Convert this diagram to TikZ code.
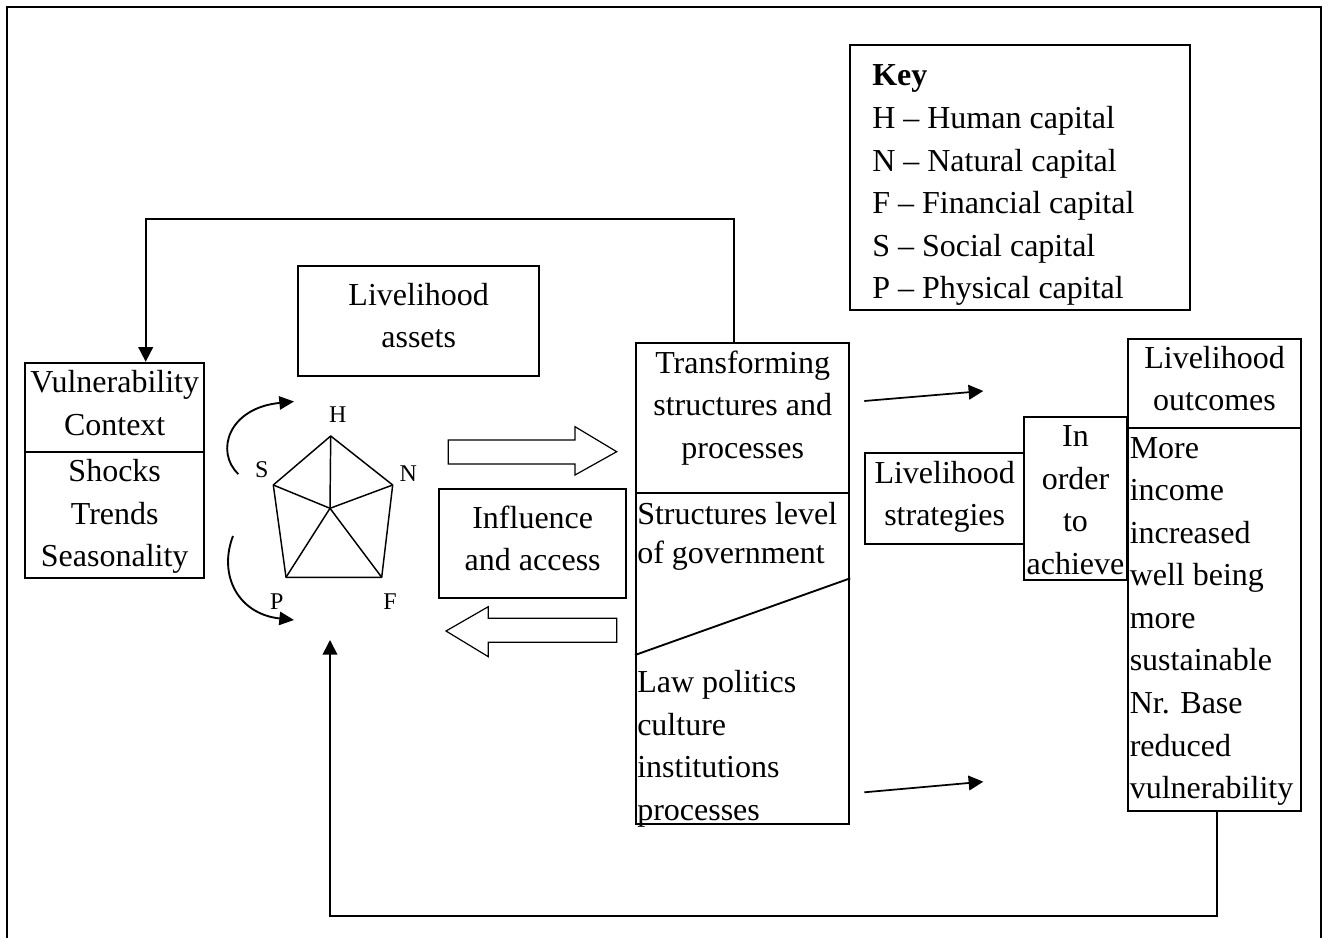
\documentclass[tikz,border=0pt]{standalone}
\usepackage{fontspec}
\setmainfont{Liberation Serif}
\usetikzlibrary{arrows.meta,fit}
\newcommand\mlines[2]{\begin{tabular}[t]{@{}#1@{}}#2\end{tabular}}
\begin{document}
\begin{tikzpicture}[x=0.75pt,y=-0.75pt,
  box/.style={draw,line width=1.4pt,inner sep=0pt},
  txt/.style={inner sep=0pt,font=\fontsize{24}{31.9}\selectfont},
  ctxt/.style={txt,anchor=base},
  ltxt/.style={txt,anchor=base west},
  lbl/.style={inner sep=0pt,anchor=base,font=\fontsize{18}{20}\selectfont},
  arr/.style={line width=1.3pt,-{Triangle[length=11pt,width=11pt]}},
  carr/.style={line width=1.4pt,-{Triangle[length=11pt,width=10pt]}},
  pent/.style={line width=1.1pt,line join=round},
  blockarrow/.style={draw,line width=0.9pt,line join=miter},
  divider/.style={line width=1.4pt}]
\useasboundingbox (0,0) rectangle (1324,938);
% outer frame (open at the bottom)
\draw[line width=1.5pt] (6.5,938) -- (6.5,7.5) -- (1321,7.5) -- (1321,938);

% ---------- Key ----------
\node[box,fit={(850,45) (1190,310)}] (key) {};
\begin{scope}
\clip (850,45) rectangle (1190,309);
\node[ltxt] (keytxt) at (872,86) {\mlines{l}{\textbf{Key}\\H – Human capital\\N – Natural capital\\F – Financial capital\\S – Social capital\\P – Physical capital}};
\end{scope}

% ---------- Vulnerability context ----------
\node[box,fit={(25,362.7) (204.3,577.7)}] (vul) {};
\draw[divider] (vul.west |- 0,452.3) -- (vul.east |- 0,452.3);
\node[ctxt] (vultop) at (114.7,392.7) {\mlines{c}{Vulnerability\\Context}};
\node[ctxt] (vulbot) at (114.7,481.7) {\mlines{c}{Shocks\\Trends\\Seasonality}};

% ---------- Livelihood assets ----------
\node[box,fit={(298.3,265.7) (539,376)}] (assets) {};
\node[ctxt] (assetstxt) at (418.7,305) {\mlines{c}{Livelihood\\assets}};

% ---------- pentagon ----------
\coordinate (pH) at (330.7,436);
\coordinate (pN) at (392.7,485);
\coordinate (pF) at (381.7,577.3);
\coordinate (pP) at (286,577.3);
\coordinate (pS) at (273.3,485);
\coordinate (pC) at (330,508.3);
\draw[pent] (pH) -- (pN) -- (pF) -- (pP) -- (pS) -- cycle;
\foreach \v in {pH,pN,pF,pP,pS} \draw[pent] (pC) -- (\v);
\node[lbl] (lH) at (337.7,422.7) {H};
\node[lbl] (lS) at (261.7,477.3) {S};
\node[lbl] (lN) at (408.3,481.7) {N};
\node[lbl] (lP) at (276.7,609.3) {P};
\node[lbl] (lF) at (390,609.3) {F};
% curved arrows
\coordinate (cu1) at (238.3,474);
\coordinate (cu2) at (294,401.5);
\coordinate (cl1) at (233,536);
\coordinate (cl2) at (294,620);
\draw[carr] (cu1) .. controls (215,452) and (228,408) .. (cu2);
\draw[carr] (cl1) .. controls (218,575) and (238,614) .. (cl2);

% ---------- block arrows ----------
\draw[blockarrow] (448.3,440) -- (575,440) -- (575,426.7) -- (616.7,451.7) -- (575,475) -- (575,464) -- (448.3,464) -- cycle;
\draw[blockarrow] (616.7,618.3) -- (488.3,618.3) -- (488.3,606.7) -- (446,631) -- (488.3,656.7) -- (488.3,642.3) -- (616.7,642.3) -- cycle;

% ---------- Influence and access ----------
\node[box,fit={(439.3,489.3) (626,598.3)}] (infl) {};
\node[ctxt] (infltxt) at (532.7,528.3) {\mlines{c}{Influence\\and access}};

% ---------- Transforming structures ----------
\node[box,fit={(636,343.3) (849.3,824.3)}] (trans) {};
\draw[divider] (trans.west |- 0,493.3) -- (trans.east |- 0,493.3);
\draw[divider] (trans.west |- 0,655) -- (trans.east |- 0,578.3);
\node[ctxt] (transtop) at (742.7,373.3) {\mlines{c}{Transforming\\structures and\\processes}};
\node[ltxt,font=\fontsize{24}{29.3}\selectfont] (transmid) at (637,524) {\mlines{l}{Structures level\\of government}};
\node[ltxt] (transbot) at (637,692.5) {\mlines{l}{Law politics\\culture\\institutions\\processes}};

% ---------- Livelihood strategies ----------
\node[box,fit={(865,452.7) (1024.3,544.3)}] (strat) {};
\node[ctxt] (strattxt) at (944.7,483.3) {\mlines{c}{Livelihood\\strategies}};

% ---------- In order to achieve ----------
\node[box,fit={(1024.3,417.3) (1126.7,580)}] (order) {};
\node[ctxt] (ordertxt) at (1075.5,446.7) {\mlines{c}{In\\order\\to\\achieve}};

% ---------- Livelihood outcomes ----------
\node[box,fit={(1128.3,339.3) (1300.7,810.7)}] (out) {};
\draw[divider] (out.west |- 0,428.3) -- (out.east |- 0,428.3);
\node[ctxt] (outtop) at (1214.5,368.3) {\mlines{c}{Livelihood\\outcomes}};
\node[ltxt] (outbot) at (1129.5,458.3) {\mlines{l}{More\\income\\increased\\well being\\more\\sustainable\\Nr. Base\\reduced\\vulnerability}};

% ---------- small arrows ----------
\coordinate (sa1) at (864.3,401);
\coordinate (sa2) at (983.3,391);
\coordinate (sb1) at (864.3,792.3);
\coordinate (sb2) at (983.3,781.7);
\draw[arr] (sa1) -- (sa2);
\draw[arr] (sb1) -- (sb2);

% ---------- feedback connectors ----------
\coordinate (fb1) at (734.3,219);
\coordinate (fb2) at (145.7,219);
\draw[arr] (trans.north -| fb1) -- (fb1) -- (fb2) -- (vul.north -| fb2);
\coordinate (fb3) at (1216.7,916);
\coordinate (fb4) at (330,916);
\coordinate (fbend) at (330,640);
\draw[arr] (out.south -| fb3) -- (fb3) -- (fb4) -- (fbend);
\end{tikzpicture}
\end{document}
